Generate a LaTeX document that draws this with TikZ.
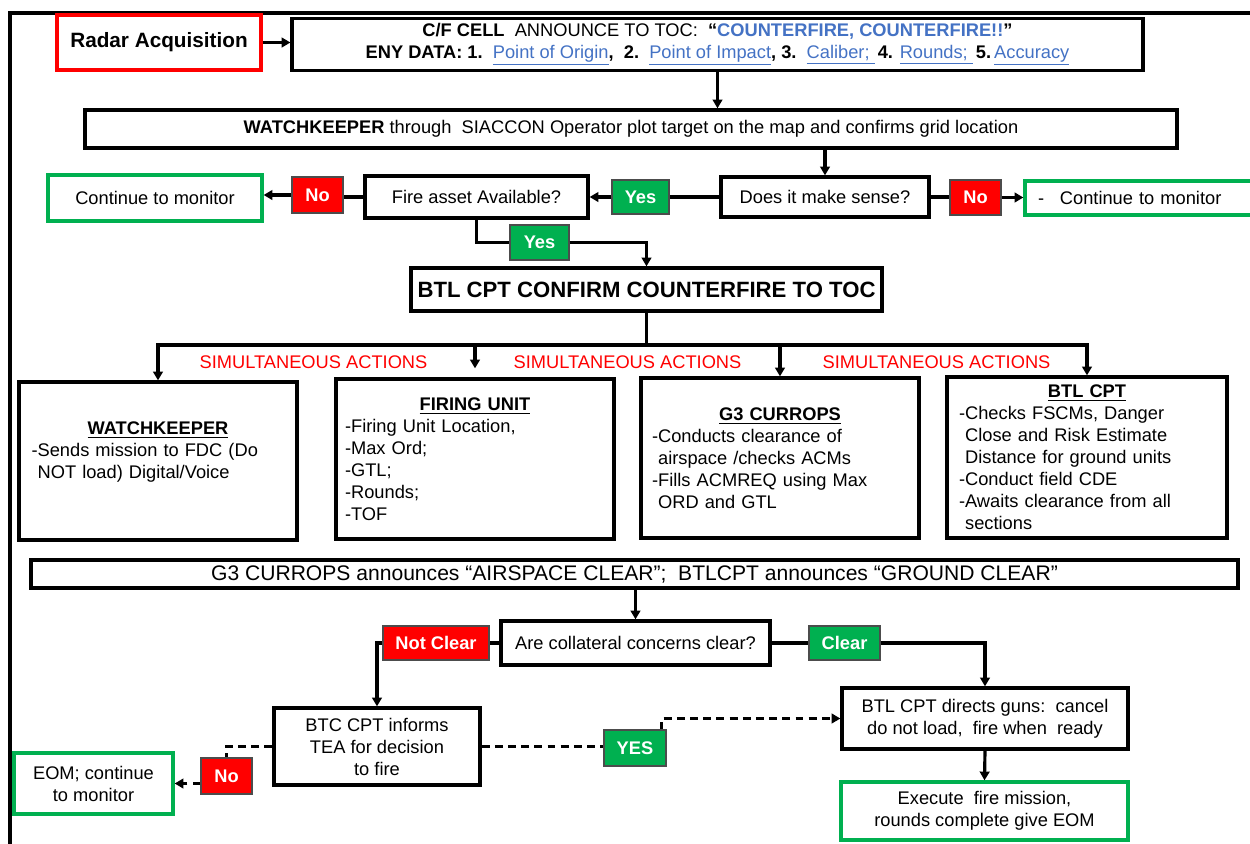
\documentclass[tikz,border=0pt]{standalone}
\usepackage{fontspec}
\setmainfont{Liberation Sans}
\usetikzlibrary{arrows.meta}
\definecolor{xred}{HTML}{FF0000}
\definecolor{xgreen}{HTML}{00B050}
\definecolor{xblue}{HTML}{4472C4}
\newcommand\fs{\fontsize{10.4}{12.5}\selectfont}
\newcommand\lnk[1]{{\color{xblue}\underline{#1}}}
\newcommand\ind{\phantom{-}}
\begin{document}
\begin{tikzpicture}[x=0.02cm,y=-0.02cm,
 box/.style={draw, line width=1.9pt, align=center, font=\fs, inner sep=2pt},
 gbox/.style={box, draw=xgreen},
 rbox/.style={box, draw=xred},
 tagr/.style={draw=black!70, line width=0.6pt, fill=xred, text=white, font=\fs\bfseries, inner sep=1pt},
 tagg/.style={tagr, fill=xgreen},
 panel/.style={box, align=left},
 conn/.style={line width=1.8pt},
 arr/.style={conn, -{Triangle[length=5pt,width=5.5pt]}},
 dsh/.style={dash pattern=on 4.5pt off 3pt},
 sim/.style={text=xred, font=\fs, inner sep=0pt}
]
\useasboundingbox (0,0) rectangle (1250,843);
% outer frame
\draw[line width=2.2pt] (10,860) -- (10,13) -- (1270,13);

% top row
\node[rbox, minimum width=4.08cm, minimum height=1.1cm, font=\fontsize{11.8}{14}\selectfont\bfseries] (radar) at (159,42.5) {Radar Acquisition};
\node[box, minimum width=17.02cm, minimum height=1.04cm, inner sep=0pt] (cf) at (717.5,44.5)
 {{\bfseries C/F CELL}\ \ ANNOUNCE TO TOC:\ \ {\bfseries “{\color{xblue}COUNTERFIRE, COUNTERFIRE!!}”}\\
  {\bfseries ENY DATA: 1.}\ \ \lnk{Point of Origin}{\bfseries ,\ \ 2.}\ \ \lnk{Point of Impact}{\bfseries ,\ 3.}\ \ \lnk{Caliber;\ }{\bfseries\,4.} \lnk{Rounds;\ }{\bfseries\,5.}\,\lnk{Accuracy}};
\node[box, minimum width=21.84cm, minimum height=0.76cm] (watch) at (631,129)
 {{\bfseries WATCHKEEPER} through\ \ SIACCON Operator plot target on the map and confirms grid location};

% decision row
\node[box, minimum width=4.16cm, minimum height=0.8cm] (sense) at (825,197) {Does it make sense?};
\node[tagr, minimum width=1.02cm, minimum height=0.7cm] (noR) at (975.5,197.5) {No};
\node[gbox, minimum height=0.68cm, align=left, text width=4.1cm, inner xsep=0.26cm] (contR) at (1140.5,198) {-\hspace{9pt}Continue\ to monitor};
\node[tagg, minimum width=1.14cm, minimum height=0.68cm] (yes1) at (640.5,197) {Yes};
\node[box, minimum width=4.46cm, minimum height=0.84cm] (fire) at (476.5,197) {Fire asset Available?};
\node[tagr, minimum width=1.02cm, minimum height=0.72cm] (no1) at (317.5,195) {No};
\node[gbox, minimum width=4.28cm, minimum height=0.92cm] (contL) at (155,198) {Continue\ to monitor};
\node[tagg, minimum width=1.18cm, minimum height=0.7cm] (yes2) at (539.5,242.5) {Yes};
\node[box, minimum width=9.42cm, minimum height=0.86cm, font=\fontsize{12.6}{15}\selectfont\bfseries] (confirm) at (646.5,289.5) {BTL CPT CONFIRM COUNTERFIRE TO TOC};

% simultaneous actions
\coordinate (bus) at (646.5,345);
\node[sim] (sim1) at (313.5,362) {SIMULTANEOUS ACTIONS};
\node[sim] (sim2) at (627.5,362) {SIMULTANEOUS ACTIONS};
\node[sim] (sim3) at (936.5,362) {SIMULTANEOUS ACTIONS};

\node[panel, text width=5.06cm, inner xsep=0.25cm, minimum height=3.16cm] (wk) at (158,461)
 {{\centering\bfseries\underline{WATCHKEEPER}\par}
  -Sends mission to FDC (Do\\\ind NOT load) Digital/Voice\\\mbox{}};
\node[panel, text width=5.2cm, inner xsep=0.18cm, minimum height=3.2cm] (fu) at (475,459)
 {{\centering\bfseries\underline{FIRING UNIT}\par}
  -Firing Unit Location,\\-Max Ord;\\-GTL;\\-Rounds;\\-TOF};
\node[panel, text width=5.12cm, inner xsep=0.22cm, minimum height=3.2cm] (g3) at (780,458)
 {{\centering\bfseries\underline{G3 CURROPS}\par}
  -Conducts clearance of\\\ind airspace /checks ACMs\\-Fills ACMREQ using Max\\\ind ORD and GTL};
\node[panel, text width=5.12cm, inner xsep=0.24cm, minimum height=3.22cm] (btl) at (1087,457.5)
 {{\centering\bfseries\underline{BTL CPT}\par}
  -Checks FSCMs, Danger\\\ind Close and Risk Estimate\\\ind Distance for ground units\\-Conduct field CDE\\-Awaits clearance from all\\\ind sections};

% bottom part
\node[box, minimum width=24.14cm, minimum height=0.56cm, inner sep=0pt, font=\fontsize{12}{14}\selectfont] (g3ann) at (634.5,574)
 {G3 CURROPS announces “AIRSPACE CLEAR”;\ \ BTLCPT announces “GROUND CLEAR”};
\node[box, minimum width=5.38cm, minimum height=0.88cm] (coll) at (635.5,643) {Are collateral concerns clear?};
\node[tagr, minimum width=2.12cm, minimum height=0.68cm] (notclear) at (436,643) {Not Clear};
\node[tagg, minimum width=1.42cm, minimum height=0.68cm] (clear) at (844.5,643) {Clear};
\node[box, minimum width=4.12cm, minimum height=1.54cm] (btc) at (377,746.5) {BTC CPT informs\\TEA for decision\\to fire};
\node[tagr, minimum width=1.02cm, minimum height=0.72cm] (nob) at (226.5,776) {No};
\node[gbox, minimum width=3.18cm, minimum height=1.22cm] (eom) at (93.5,783.5) {EOM; continue\\to monitor};
\node[tagg, minimum width=1.24cm, minimum height=0.72cm] (yes3) at (635,748) {YES};
\node[box, minimum width=5.72cm, minimum height=1.22cm] (direct) at (985,718.5) {BTL CPT directs guns:\ \ cancel\\do not load,\ \ fire when\ \ ready};
\node[gbox, minimum width=5.74cm, minimum height=1.16cm] (exec) at (984.5,811) {Execute\ \ fire mission,\\rounds complete give EOM};

% connectors
\draw[arr] (radar.east) -- (radar.east -| cf.west);
\draw[arr] (cf.south) -- (cf.south |- watch.north);
\draw[arr] (watch.south -| sense.north) -- (sense.north);
\draw[conn] (sense.west) -- (yes1.east);
\draw[arr] (yes1.west) -- (fire.east);
\draw[conn] (fire.west) -- (fire.west -| no1.east);
\draw[arr] (no1.west) -- (no1.west -| contL.east);
\draw[conn] (sense.east) -- (sense.east -| noR.west);
\draw[arr] (noR.east) -- (noR.east -| contR.west);
\draw[conn] (fire.south) |- (yes2.west);
\draw[arr] (yes2.east) -| (confirm.north);
\draw[conn] (confirm.south) -- (bus);
\draw[arr] (bus) -| (wk.north);
\draw[arr] (bus) -| (btl.north);
\draw[arr, shorten >=0.18cm] (bus -| fu.north) -- (fu.north);
\draw[arr] (bus -| g3.north) -- (g3.north);
\draw[arr] (g3ann.south -| coll.north) -- (coll.north);
\draw[conn] (coll.west) -- (notclear.east);
\draw[arr] (notclear.west) -| (btc.north);
\draw[conn] (coll.east) -- (clear.west);
\draw[arr] (clear.east) -| (direct.north);
\draw[arr] (direct.south) -- (exec.north);
\draw[conn, dsh] (btc.west) -| (nob.north);
\draw[arr, dsh] (nob.west |- eom.east) -- (eom.east);
\draw[conn, dsh] (btc.east) -- (btc.east -| yes3.west);
\draw[arr, dsh] ([xshift=-0.1cm]yes3.north east) |- (direct.west);
\end{tikzpicture}
\end{document}
